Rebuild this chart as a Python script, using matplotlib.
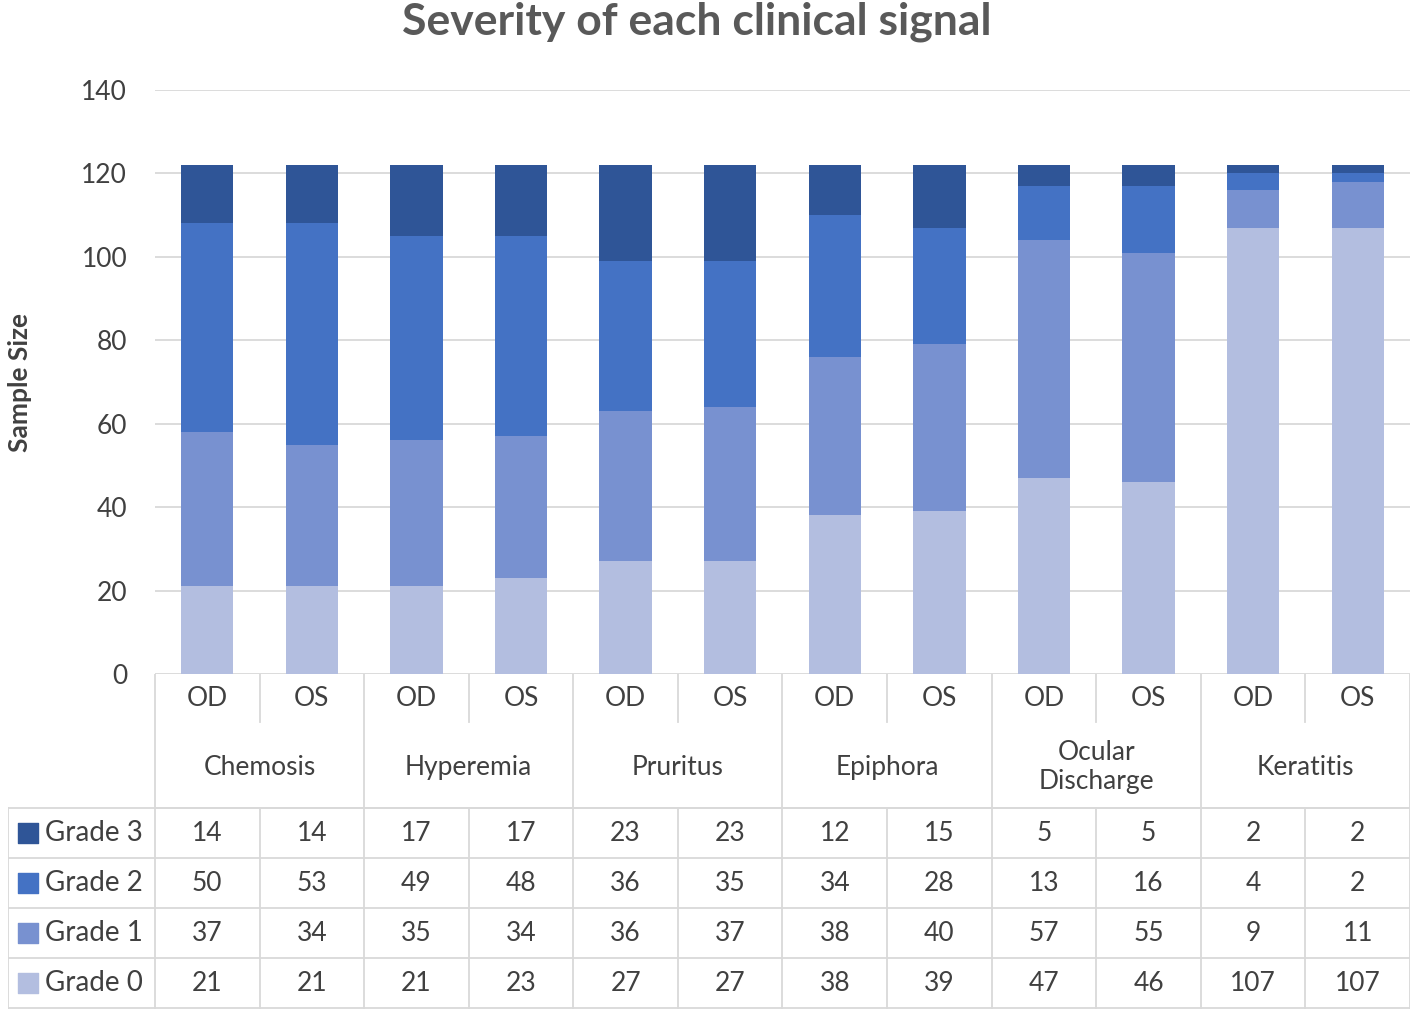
import matplotlib.pyplot as plt
import numpy as np

plt.rcParams['font.family'] = ['Lato', 'DejaVu Sans']

categories = ['Chemosis', 'Hyperemia', 'Pruritus', 'Epiphora', 'Ocular\nDischarge', 'Keratitis']
eyes = ['OD', 'OS']
grade_names = ['Grade 0', 'Grade 1', 'Grade 2', 'Grade 3']
grade0 = [21, 21, 21, 23, 27, 27, 38, 39, 47, 46, 107, 107]
grade1 = [37, 34, 35, 34, 36, 37, 38, 40, 57, 55, 9, 11]
grade2 = [50, 53, 49, 48, 36, 35, 34, 28, 13, 16, 4, 2]
grade3 = [14, 14, 17, 17, 23, 23, 12, 15, 5, 5, 2, 2]
colors = ['#B3BEE0', '#7891D0', '#4472C4', '#2F5597']

W, H = 1416, 1013
fig = plt.figure(figsize=(W / 100, H / 100), dpi=100)

# main plot area in pixels
px_left, px_right = 155, 1410
px_top, px_bottom = 90, 674
ax = fig.add_axes([px_left / W, 1 - px_bottom / H, (px_right - px_left) / W, (px_bottom - px_top) / H])

grades = [grade0, grade1, grade2, grade3]
x = np.arange(len(grade0))
bottom = np.zeros(len(grade0))
for g, vals in enumerate(grades):
    ax.bar(x, vals, 0.5, bottom=bottom, color=colors[g], label=grade_names[g], zorder=3)
    bottom += np.array(vals)

ax.set_xlim(-0.5, len(x) - 0.5)
ax.set_ylim(0, 140)
ax.set_yticks(range(0, 141, 20))
ax.yaxis.grid(True, color='#D9D9D9', linewidth=1.3, zorder=0)
ax.tick_params(axis='y', length=0, labelsize=19, labelcolor='#404040', pad=20)
ax.set_xticks([])
for s in ax.spines.values():
    s.set_visible(False)
ax.set_ylabel('Sample Size', fontsize=19, fontweight='bold', color='#404040')
ax.yaxis.set_label_coords((32 - px_left) / (px_right - px_left), 0.5)

fig.suptitle('Severity of each clinical signal', x=697 / W, y=1 - 22 / H,
             va='center', fontsize=32, fontweight='bold', color='#595959')

# data table below the plot
col_w = (px_right - px_left) / len(x)
tx0 = 8
left_units = (px_left - tx0) / col_w
tax = fig.add_axes([tx0 / W, 0, (px_right - tx0) / W, 1 - px_bottom / H])
tax.set_xlim(-0.5 - left_units, len(x) - 0.5)
tax.set_ylim(H, px_bottom)
tax.axis('off')

line_c = '#D9D9D9'
lw = 1.3
y_eye = 722
y_cat = 808
row_h = 50
rows_y = [y_cat + i * row_h for i in range(5)]
xl = -0.5 - left_units
xr = len(x) - 0.5

# header grid
for c in range(len(categories) + 1):
    xc = -0.5 + 2 * c
    tax.plot([xc, xc], [px_bottom, y_cat], color=line_c, lw=lw)
for c in range(len(categories)):
    xc = 0.5 + 2 * c
    tax.plot([xc, xc], [px_bottom, y_eye], color=line_c, lw=lw)
tax.plot([-0.5, xr], [y_cat, y_cat], color=line_c, lw=lw)

# body grid
for yy in rows_y:
    tax.plot([xl, xr], [yy, yy], color=line_c, lw=lw)
for xc in [xl] + [i - 0.5 for i in range(len(x) + 1)]:
    tax.plot([xc, xc], [rows_y[0], rows_y[-1]], color=line_c, lw=lw)

txt_c = '#404040'
fs = 19
for i in range(len(x)):
    tax.text(i, (px_bottom + y_eye) / 2, eyes[i % 2], ha='center', va='center', fontsize=fs, color=txt_c)
for c, name in enumerate(categories):
    tax.text(2 * c + 0.5, (y_eye + y_cat) / 2 + 2, name, ha='center', va='center', fontsize=fs,
             color=txt_c, linespacing=1.2)

for r, g in enumerate([3, 2, 1, 0]):
    yc = rows_y[r] + row_h / 2
    tax.scatter([xl + 0.19], [yc], marker='s', s=190, color=colors[g], zorder=4)
    tax.text(xl + 0.35, yc, grade_names[g], ha='left', va='center', fontsize=20, color=txt_c)
    for i in range(len(x)):
        tax.text(i, yc, str(grades[g][i]), ha='center', va='center', fontsize=fs, color=txt_c)

fig.savefig('out.png', dpi=100)
